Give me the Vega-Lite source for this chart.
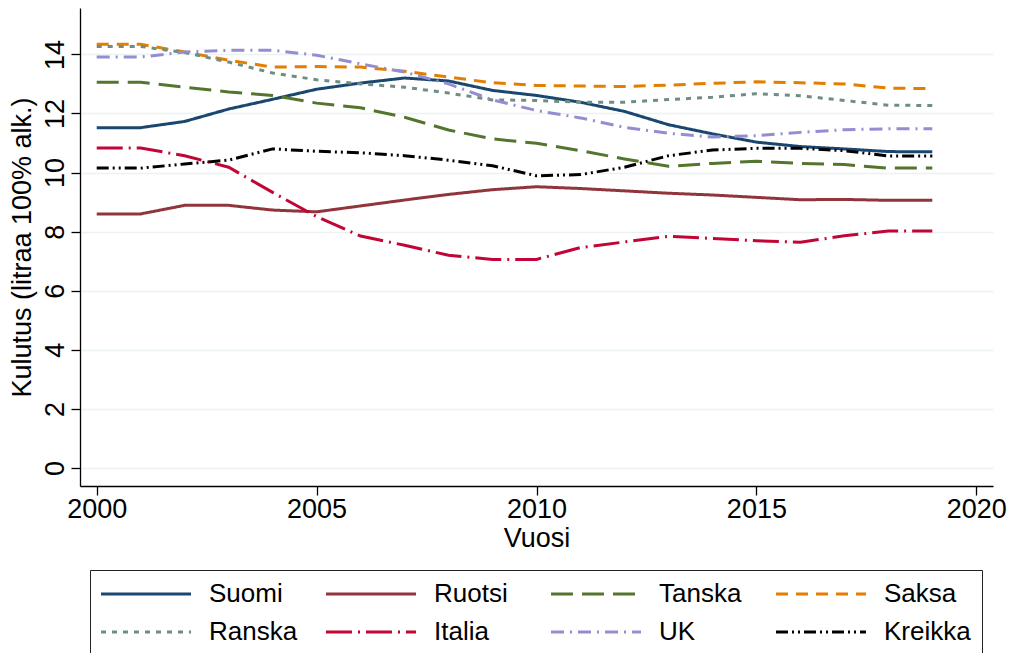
{
  "$schema": "https://vega.github.io/schema/vega-lite/v6.json",
  "width": 913,
  "height": 478,
  "autosize": {"type": "none"},
  "padding": {"left": 80, "top": 8, "right": 17, "bottom": 167},
  "background": "white",
  "config": {
    "font": "Liberation Sans",
    "view": {"stroke": null},
    "axis": {"labelColor": "black", "titleColor": "black", "titleFontWeight": "normal", "domainColor": "black", "tickColor": "black", "labelFontSize": 27, "titleFontSize": 27, "tickSize": 9, "domainWidth": 1.3, "tickWidth": 1.3}
  },
  "data": {
    "values": [
      {"vuosi": 2000, "maa": "Suomi", "kulutus": 11.52},
      {"vuosi": 2001, "maa": "Suomi", "kulutus": 11.52},
      {"vuosi": 2002, "maa": "Suomi", "kulutus": 11.73},
      {"vuosi": 2003, "maa": "Suomi", "kulutus": 12.15},
      {"vuosi": 2004, "maa": "Suomi", "kulutus": 12.48},
      {"vuosi": 2005, "maa": "Suomi", "kulutus": 12.82},
      {"vuosi": 2006, "maa": "Suomi", "kulutus": 13.03},
      {"vuosi": 2007, "maa": "Suomi", "kulutus": 13.2},
      {"vuosi": 2008, "maa": "Suomi", "kulutus": 13.1},
      {"vuosi": 2009, "maa": "Suomi", "kulutus": 12.78},
      {"vuosi": 2010, "maa": "Suomi", "kulutus": 12.61},
      {"vuosi": 2011, "maa": "Suomi", "kulutus": 12.38},
      {"vuosi": 2012, "maa": "Suomi", "kulutus": 12.07},
      {"vuosi": 2013, "maa": "Suomi", "kulutus": 11.62},
      {"vuosi": 2014, "maa": "Suomi", "kulutus": 11.31},
      {"vuosi": 2015, "maa": "Suomi", "kulutus": 11.03},
      {"vuosi": 2016, "maa": "Suomi", "kulutus": 10.88},
      {"vuosi": 2017, "maa": "Suomi", "kulutus": 10.8},
      {"vuosi": 2018, "maa": "Suomi", "kulutus": 10.71},
      {"vuosi": 2019, "maa": "Suomi", "kulutus": 10.7},
      {"vuosi": 2000, "maa": "Ruotsi", "kulutus": 8.6},
      {"vuosi": 2001, "maa": "Ruotsi", "kulutus": 8.6},
      {"vuosi": 2002, "maa": "Ruotsi", "kulutus": 8.89},
      {"vuosi": 2003, "maa": "Ruotsi", "kulutus": 8.89},
      {"vuosi": 2004, "maa": "Ruotsi", "kulutus": 8.73},
      {"vuosi": 2005, "maa": "Ruotsi", "kulutus": 8.67},
      {"vuosi": 2006, "maa": "Ruotsi", "kulutus": 8.87},
      {"vuosi": 2007, "maa": "Ruotsi", "kulutus": 9.07},
      {"vuosi": 2008, "maa": "Ruotsi", "kulutus": 9.26},
      {"vuosi": 2009, "maa": "Ruotsi", "kulutus": 9.42},
      {"vuosi": 2010, "maa": "Ruotsi", "kulutus": 9.52},
      {"vuosi": 2011, "maa": "Ruotsi", "kulutus": 9.46},
      {"vuosi": 2012, "maa": "Ruotsi", "kulutus": 9.38},
      {"vuosi": 2013, "maa": "Ruotsi", "kulutus": 9.3},
      {"vuosi": 2014, "maa": "Ruotsi", "kulutus": 9.24},
      {"vuosi": 2015, "maa": "Ruotsi", "kulutus": 9.16},
      {"vuosi": 2016, "maa": "Ruotsi", "kulutus": 9.08},
      {"vuosi": 2017, "maa": "Ruotsi", "kulutus": 9.09},
      {"vuosi": 2018, "maa": "Ruotsi", "kulutus": 9.06},
      {"vuosi": 2019, "maa": "Ruotsi", "kulutus": 9.06},
      {"vuosi": 2000, "maa": "Tanska", "kulutus": 13.06},
      {"vuosi": 2001, "maa": "Tanska", "kulutus": 13.06},
      {"vuosi": 2002, "maa": "Tanska", "kulutus": 12.89},
      {"vuosi": 2003, "maa": "Tanska", "kulutus": 12.73},
      {"vuosi": 2004, "maa": "Tanska", "kulutus": 12.61},
      {"vuosi": 2005, "maa": "Tanska", "kulutus": 12.35},
      {"vuosi": 2006, "maa": "Tanska", "kulutus": 12.19},
      {"vuosi": 2007, "maa": "Tanska", "kulutus": 11.87},
      {"vuosi": 2008, "maa": "Tanska", "kulutus": 11.44},
      {"vuosi": 2009, "maa": "Tanska", "kulutus": 11.14},
      {"vuosi": 2010, "maa": "Tanska", "kulutus": 10.99},
      {"vuosi": 2011, "maa": "Tanska", "kulutus": 10.74},
      {"vuosi": 2012, "maa": "Tanska", "kulutus": 10.46},
      {"vuosi": 2013, "maa": "Tanska", "kulutus": 10.21},
      {"vuosi": 2014, "maa": "Tanska", "kulutus": 10.31},
      {"vuosi": 2015, "maa": "Tanska", "kulutus": 10.38},
      {"vuosi": 2016, "maa": "Tanska", "kulutus": 10.31},
      {"vuosi": 2017, "maa": "Tanska", "kulutus": 10.27},
      {"vuosi": 2018, "maa": "Tanska", "kulutus": 10.15},
      {"vuosi": 2019, "maa": "Tanska", "kulutus": 10.15},
      {"vuosi": 2000, "maa": "Saksa", "kulutus": 14.34},
      {"vuosi": 2001, "maa": "Saksa", "kulutus": 14.34},
      {"vuosi": 2002, "maa": "Saksa", "kulutus": 14.08},
      {"vuosi": 2003, "maa": "Saksa", "kulutus": 13.8},
      {"vuosi": 2004, "maa": "Saksa", "kulutus": 13.57},
      {"vuosi": 2005, "maa": "Saksa", "kulutus": 13.59},
      {"vuosi": 2006, "maa": "Saksa", "kulutus": 13.57},
      {"vuosi": 2007, "maa": "Saksa", "kulutus": 13.43},
      {"vuosi": 2008, "maa": "Saksa", "kulutus": 13.23},
      {"vuosi": 2009, "maa": "Saksa", "kulutus": 13.04},
      {"vuosi": 2010, "maa": "Saksa", "kulutus": 12.95},
      {"vuosi": 2011, "maa": "Saksa", "kulutus": 12.93},
      {"vuosi": 2012, "maa": "Saksa", "kulutus": 12.91},
      {"vuosi": 2013, "maa": "Saksa", "kulutus": 12.96},
      {"vuosi": 2014, "maa": "Saksa", "kulutus": 13.02},
      {"vuosi": 2015, "maa": "Saksa", "kulutus": 13.07},
      {"vuosi": 2016, "maa": "Saksa", "kulutus": 13.04},
      {"vuosi": 2017, "maa": "Saksa", "kulutus": 13.0},
      {"vuosi": 2018, "maa": "Saksa", "kulutus": 12.86},
      {"vuosi": 2019, "maa": "Saksa", "kulutus": 12.84},
      {"vuosi": 2000, "maa": "Ranska", "kulutus": 14.27},
      {"vuosi": 2001, "maa": "Ranska", "kulutus": 14.27},
      {"vuosi": 2002, "maa": "Ranska", "kulutus": 14.06},
      {"vuosi": 2003, "maa": "Ranska", "kulutus": 13.74},
      {"vuosi": 2004, "maa": "Ranska", "kulutus": 13.37},
      {"vuosi": 2005, "maa": "Ranska", "kulutus": 13.14},
      {"vuosi": 2006, "maa": "Ranska", "kulutus": 13.0},
      {"vuosi": 2007, "maa": "Ranska", "kulutus": 12.89},
      {"vuosi": 2008, "maa": "Ranska", "kulutus": 12.69},
      {"vuosi": 2009, "maa": "Ranska", "kulutus": 12.46},
      {"vuosi": 2010, "maa": "Ranska", "kulutus": 12.44},
      {"vuosi": 2011, "maa": "Ranska", "kulutus": 12.38},
      {"vuosi": 2012, "maa": "Ranska", "kulutus": 12.38},
      {"vuosi": 2013, "maa": "Ranska", "kulutus": 12.47},
      {"vuosi": 2014, "maa": "Ranska", "kulutus": 12.55},
      {"vuosi": 2015, "maa": "Ranska", "kulutus": 12.67},
      {"vuosi": 2016, "maa": "Ranska", "kulutus": 12.6},
      {"vuosi": 2017, "maa": "Ranska", "kulutus": 12.44},
      {"vuosi": 2018, "maa": "Ranska", "kulutus": 12.28},
      {"vuosi": 2019, "maa": "Ranska", "kulutus": 12.27},
      {"vuosi": 2000, "maa": "Italia", "kulutus": 10.83},
      {"vuosi": 2001, "maa": "Italia", "kulutus": 10.83},
      {"vuosi": 2002, "maa": "Italia", "kulutus": 10.57},
      {"vuosi": 2003, "maa": "Italia", "kulutus": 10.18},
      {"vuosi": 2004, "maa": "Italia", "kulutus": 9.33},
      {"vuosi": 2005, "maa": "Italia", "kulutus": 8.51},
      {"vuosi": 2006, "maa": "Italia", "kulutus": 7.85},
      {"vuosi": 2007, "maa": "Italia", "kulutus": 7.54},
      {"vuosi": 2008, "maa": "Italia", "kulutus": 7.2},
      {"vuosi": 2009, "maa": "Italia", "kulutus": 7.06},
      {"vuosi": 2010, "maa": "Italia", "kulutus": 7.06},
      {"vuosi": 2011, "maa": "Italia", "kulutus": 7.46},
      {"vuosi": 2012, "maa": "Italia", "kulutus": 7.65},
      {"vuosi": 2013, "maa": "Italia", "kulutus": 7.84},
      {"vuosi": 2014, "maa": "Italia", "kulutus": 7.77},
      {"vuosi": 2015, "maa": "Italia", "kulutus": 7.69},
      {"vuosi": 2016, "maa": "Italia", "kulutus": 7.64},
      {"vuosi": 2017, "maa": "Italia", "kulutus": 7.86},
      {"vuosi": 2018, "maa": "Italia", "kulutus": 8.02},
      {"vuosi": 2019, "maa": "Italia", "kulutus": 8.02},
      {"vuosi": 2000, "maa": "UK", "kulutus": 13.91},
      {"vuosi": 2001, "maa": "UK", "kulutus": 13.91},
      {"vuosi": 2002, "maa": "UK", "kulutus": 14.08},
      {"vuosi": 2003, "maa": "UK", "kulutus": 14.14},
      {"vuosi": 2004, "maa": "UK", "kulutus": 14.14},
      {"vuosi": 2005, "maa": "UK", "kulutus": 13.97},
      {"vuosi": 2006, "maa": "UK", "kulutus": 13.68},
      {"vuosi": 2007, "maa": "UK", "kulutus": 13.4},
      {"vuosi": 2008, "maa": "UK", "kulutus": 13.0},
      {"vuosi": 2009, "maa": "UK", "kulutus": 12.46},
      {"vuosi": 2010, "maa": "UK", "kulutus": 12.1},
      {"vuosi": 2011, "maa": "UK", "kulutus": 11.85},
      {"vuosi": 2012, "maa": "UK", "kulutus": 11.53},
      {"vuosi": 2013, "maa": "UK", "kulutus": 11.33},
      {"vuosi": 2014, "maa": "UK", "kulutus": 11.2},
      {"vuosi": 2015, "maa": "UK", "kulutus": 11.25},
      {"vuosi": 2016, "maa": "UK", "kulutus": 11.36},
      {"vuosi": 2017, "maa": "UK", "kulutus": 11.45},
      {"vuosi": 2018, "maa": "UK", "kulutus": 11.48},
      {"vuosi": 2019, "maa": "UK", "kulutus": 11.48},
      {"vuosi": 2000, "maa": "Kreikka", "kulutus": 10.15},
      {"vuosi": 2001, "maa": "Kreikka", "kulutus": 10.15},
      {"vuosi": 2002, "maa": "Kreikka", "kulutus": 10.29},
      {"vuosi": 2003, "maa": "Kreikka", "kulutus": 10.42},
      {"vuosi": 2004, "maa": "Kreikka", "kulutus": 10.8},
      {"vuosi": 2005, "maa": "Kreikka", "kulutus": 10.72},
      {"vuosi": 2006, "maa": "Kreikka", "kulutus": 10.67},
      {"vuosi": 2007, "maa": "Kreikka", "kulutus": 10.57},
      {"vuosi": 2008, "maa": "Kreikka", "kulutus": 10.42},
      {"vuosi": 2009, "maa": "Kreikka", "kulutus": 10.23},
      {"vuosi": 2010, "maa": "Kreikka", "kulutus": 9.89},
      {"vuosi": 2011, "maa": "Kreikka", "kulutus": 9.93},
      {"vuosi": 2012, "maa": "Kreikka", "kulutus": 10.18},
      {"vuosi": 2013, "maa": "Kreikka", "kulutus": 10.57},
      {"vuosi": 2014, "maa": "Kreikka", "kulutus": 10.76},
      {"vuosi": 2015, "maa": "Kreikka", "kulutus": 10.82},
      {"vuosi": 2016, "maa": "Kreikka", "kulutus": 10.82},
      {"vuosi": 2017, "maa": "Kreikka", "kulutus": 10.74},
      {"vuosi": 2018, "maa": "Kreikka", "kulutus": 10.56},
      {"vuosi": 2019, "maa": "Kreikka", "kulutus": 10.56}
    ]
  },
  "mark": {"type": "line", "strokeWidth": 3, "strokeCap": "butt"},
  "encoding": {
    "x": {
      "field": "vuosi", "type": "quantitative",
      "scale": {"domain": [1999.62, 2020.38], "nice": false, "zero": false},
      "axis": {"values": [2000, 2005, 2010, 2015, 2020], "format": "d", "title": "Vuosi", "grid": false, "labelPadding": 1, "titlePadding": 3, "labelFlush": false}
    },
    "y": {
      "field": "kulutus", "type": "quantitative",
      "scale": {"domain": [-0.61, 15.57], "nice": false, "zero": false},
      "axis": {"values": [0, 2, 4, 6, 8, 10, 12, 14], "title": "Kulutus (litraa 100% alk.)", "grid": true, "gridColor": "#eaf2f3", "gridWidth": 1.5, "labelAngle": -90, "labelAlign": "center", "labelBaseline": "bottom", "labelPadding": 2, "titlePadding": 5}
    },
    "color": {
      "field": "maa", "type": "nominal",
      "scale": {"domain": ["Suomi", "Ruotsi", "Tanska", "Saksa", "Ranska", "Italia", "UK", "Kreikka"], "range": ["#1a476f", "#90353b", "#55752f", "#e37e00", "#6e8e84", "#c10534", "#938dd2", "#000000"]},
      "legend": {"title": null, "orient": "none", "legendX": 10, "legendY": 562, "columns": 4, "direction": "horizontal", "gridAlign": "all", "symbolType": "M-6,0H6", "symbolSize": 225, "symbolStrokeWidth": 3, "symbolOffset": 32, "labelOffset": 50, "labelFontSize": 26, "labelColor": "black", "columnPadding": 22, "rowPadding": 12, "padding": 11, "strokeColor": "#222222", "labelLimit": 200}
    },
    "strokeDash": {
      "field": "maa", "type": "nominal",
      "scale": {"domain": ["Suomi", "Ruotsi", "Tanska", "Saksa", "Ranska", "Italia", "UK", "Kreikka"], "range": [[1, 0], [1, 0], [22, 9], [12, 8], [5, 6], [26, 6, 2, 6], [13, 6, 2, 6], [12, 4, 2, 4, 2, 4]]},
      "legend": {"title": null, "orient": "none", "legendX": 10, "legendY": 562, "columns": 4, "direction": "horizontal", "gridAlign": "all", "symbolType": "M-6,0H6", "symbolSize": 225, "symbolStrokeWidth": 3, "symbolOffset": 32, "labelOffset": 50, "labelFontSize": 26, "labelColor": "black", "columnPadding": 22, "rowPadding": 12, "padding": 11, "strokeColor": "#222222", "labelLimit": 200}
    }
  }
}
